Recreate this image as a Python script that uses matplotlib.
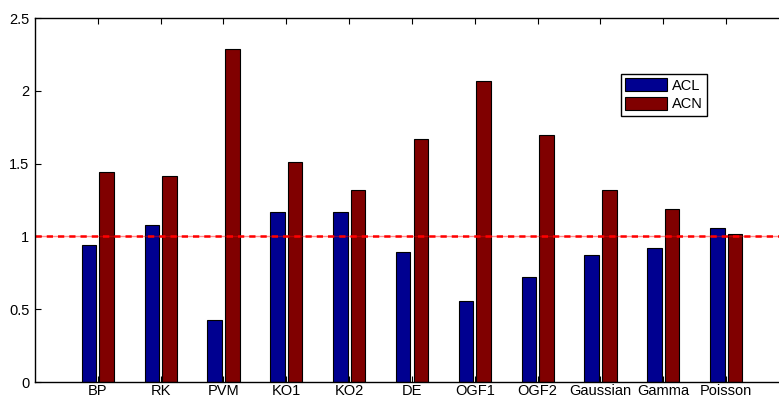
import matplotlib
matplotlib.use("Agg")
import matplotlib.pyplot as plt
import numpy as np

# ── Data ──────────────────────────────────────────────────────────────────────
methods = ["BP", "RK", "PVM", "KO1", "KO2", "DE", "OGF1", "OGF2",
           "Gaussian", "Gamma", "Poisson"]
acl = [0.94, 1.075, 0.425, 1.17, 1.168, 0.89, 0.555, 0.72, 0.872, 0.918, 1.055]
acn = [1.44, 1.415, 2.287, 1.51, 1.32, 1.668, 2.068, 1.696, 1.318, 1.186, 1.016]
reference_level = 1.0

plt.rcParams["font.family"] = ["Liberation Sans", "DejaVu Sans"]
plt.rcParams["font.size"] = 10.5

fig = plt.figure(figsize=(7.79, 3.99), dpi=100)
# axes extends past the right edge, as in the (cropped) reference
ax = fig.add_axes([35 / 779, 17 / 399, 754 / 779, 364 / 399])

x = np.arange(1, len(methods) + 1)
w = 0.23
off = 0.14
ax.bar(x - off, acl, w, color="#000090", edgecolor="black", lw=0.8, label="ACL")
ax.bar(x + off, acn, w, color="#800000", edgecolor="black", lw=0.8, label="ACN")

ax.axhline(reference_level, color="red", lw=1.0, alpha=0.45)
ax.axhline(reference_level, color="red", lw=1.8, ls=(0, (2.5, 2)))

ax.set_xlim(0, 12)
ax.set_ylim(0, 2.5)
ax.set_xticks(x)
ax.set_xticklabels(methods)
ax.set_yticks([0, 0.5, 1, 1.5, 2, 2.5])
ax.set_yticklabels(["0", "0.5", "1", "1.5", "2", "2.5"])
ax.tick_params(direction="in", top=True, right=True, length=4, width=0.8,
               pad=4)
ax.tick_params(axis="x", pad=1.5)
for s in ax.spines.values():
    s.set_linewidth(1.0)

ax.legend(loc="upper left", bbox_to_anchor=(0.767, 0.866), fancybox=False,
          edgecolor="black", framealpha=1, handlelength=2.9, handleheight=1.0,
          borderpad=0.3, labelspacing=0.25, handletextpad=0.3, fontsize=10.5)

fig.savefig("out.png", dpi=100)
plt.close(fig)
